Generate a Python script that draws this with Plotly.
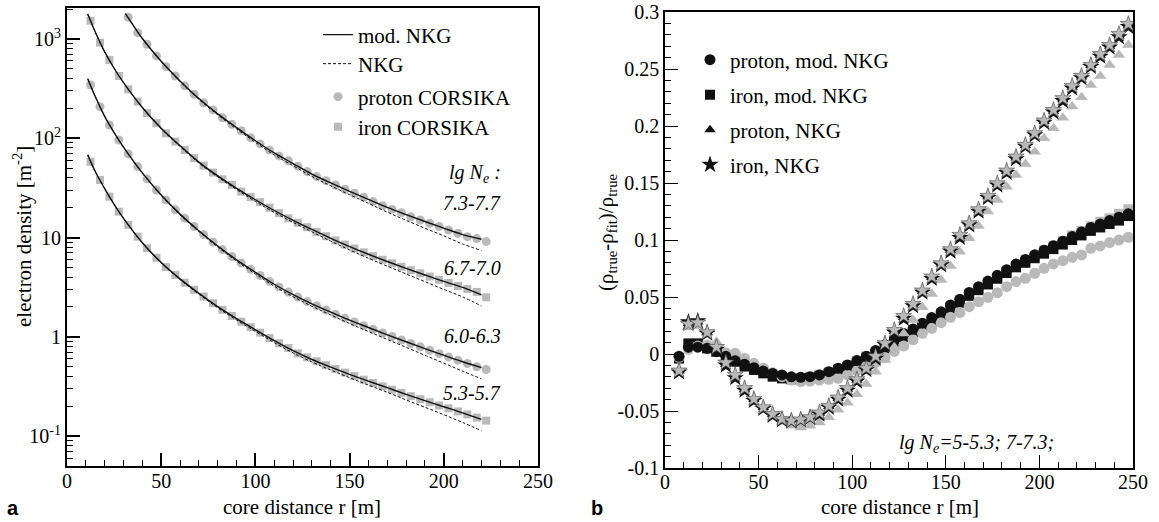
import plotly.graph_objects as go

# ---------------- data: left panel (electron lateral density) ----------------
r_pts = [12.5, 17.5, 22.5, 27.5, 32.5, 37.5, 42.5, 47.5, 52.5, 57.5, 62.5, 67.5, 72.5, 77.5, 82.5,
         87.5, 92.5, 97.5, 102.5, 107.5, 112.5, 117.5, 122.5, 127.5, 132.5, 137.5, 142.5, 147.5,
         152.5, 157.5, 162.5, 167.5, 172.5, 177.5, 182.5, 187.5, 192.5, 197.5, 202.5, 207.5,
         212.5, 217.5, 222.5]
r_ptsA = [32.5, 37.5, 42.5, 47.5, 52.5, 57.5, 62.5, 67.5, 72.5, 77.5, 82.5,
          87.5, 92.5, 97.5, 102.5, 107.5, 112.5, 117.5, 122.5, 127.5, 132.5, 137.5, 142.5, 147.5,
          152.5, 157.5, 162.5, 167.5, 172.5, 177.5, 182.5, 187.5, 192.5, 197.5, 202.5, 207.5,
          212.5, 217.5, 222.5]

# lg Ne 7.3-7.7 (proton CORSIKA)
dens_A = [1656, 1157, 885, 675, 526, 424, 337, 277, 228, 193, 161, 138, 119, 101, 87.7, 76.2, 66.4,
          59.3, 52.2, 46.1, 41.1, 37.4, 33.8, 30.6, 27.9, 25.4, 23.0, 20.9, 19.2, 17.8, 16.2, 15.0,
          13.9, 12.9, 11.9, 11.0, 10.2, 9.75, 9.1]
# lg Ne 6.7-7.0 (iron CORSIKA)
dens_B = [1528, 918, 615, 424, 311, 234, 179, 142, 112, 92.5, 76.2, 63.0, 53.0, 45.1, 38.6, 33.9,
          29.0, 25.5, 22.7, 20.0, 17.6, 15.6, 14.1, 12.7, 11.4, 10.3, 9.35, 8.49, 7.74, 7.08, 6.49,
          5.97, 5.50, 5.07, 4.69, 4.35, 4.04, 3.75, 3.49, 3.25, 3.03, 2.83, 2.5]
# lg Ne 6.0-6.3 (proton CORSIKA)
dens_C = [344, 208, 136, 96, 69.5, 51.8, 38.9, 30.1, 23.9, 19.0, 15.6, 12.9, 10.7, 8.97, 7.55, 6.43,
          5.52, 4.79, 4.14, 3.61, 3.18, 2.82, 2.51, 2.26, 2.05, 1.86, 1.69, 1.54, 1.41, 1.29, 1.19,
          1.09, 1.005, 0.927, 0.855, 0.791, 0.731, 0.676, 0.627, 0.581, 0.538, 0.499, 0.468]
# lg Ne 5.3-5.7 (iron CORSIKA)
dens_D = [58, 38, 25.8, 18.2, 13.4, 10.2, 7.8, 6.25, 5.03, 4.2, 3.5, 2.97, 2.54, 2.18, 1.87, 1.62,
          1.42, 1.25, 1.10, 0.97, 0.86, 0.77, 0.68, 0.620, 0.566, 0.518, 0.474, 0.436, 0.401, 0.370,
          0.342, 0.316, 0.293, 0.272, 0.252, 0.235, 0.219, 0.203, 0.190, 0.177, 0.165, 0.153, 0.143]

r_lineA = [31, 35, 40, 50, 60, 70, 80, 90, 100, 110, 120, 130, 140, 150, 160, 170, 180, 190, 200, 210, 220]
modA = [1800, 1385, 1010, 596, 378, 251, 176, 128, 94.4, 71.1, 55.6, 43.6, 35.5, 29.2, 24.2, 20.1,
        17.0, 14.5, 12.45, 10.7, 9.6]
nkgA = [1800, 1385, 1003, 589, 372, 246, 172, 124, 91.0, 68.0, 52.9, 41.2, 33.2, 27.0, 22.1, 18.0,
        14.9, 12.4, 10.4, 8.6, 7.4]

r_line = [11, 15, 20, 25, 30, 40, 50, 60, 70, 80, 90, 100, 110, 120, 130, 140, 150, 160, 170, 180,
          190, 200, 210, 220]
modB = [1780, 1175, 741, 507, 363, 204, 126, 84, 57.5, 41.7, 31.3, 24.0, 18.7, 14.9, 12.05, 9.82,
        8.11, 6.78, 5.73, 4.88, 4.19, 3.61, 3.14, 2.64]
nkgB = [1780, 1175, 741, 507, 363, 203, 124.6, 82.7, 56.3, 40.7, 30.4, 23.1, 17.9, 14.2, 11.4, 9.19,
        7.50, 6.18, 5.14, 4.29, 3.59, 3.00, 2.52, 2.04]
modC = [398, 263, 166, 114, 81.3, 44.7, 26.8, 17.2, 11.7, 8.22, 5.96, 4.46, 3.38, 2.66, 2.15, 1.77,
        1.47, 1.24, 1.047, 0.891, 0.760, 0.652, 0.56, 0.488]
nkgC = [398, 263, 166, 114, 81.3, 44.4, 26.5, 16.9, 11.46, 8.01, 5.78, 4.30, 3.23, 2.53, 2.03, 1.66,
        1.36, 1.13, 0.94, 0.783, 0.651, 0.542, 0.45, 0.377]
modD = [68, 46.2, 31.1, 21.6, 15.6, 8.87, 5.6, 3.83, 2.74, 2.01, 1.52, 1.175, 0.912, 0.723, 0.59,
        0.494, 0.418, 0.357, 0.307, 0.263, 0.227, 0.197, 0.171, 0.147]
nkgD = [68, 46.2, 31.1, 21.6, 15.6, 8.81, 5.54, 3.77, 2.68, 1.96, 1.475, 1.133, 0.873, 0.687, 0.557,
        0.462, 0.387, 0.326, 0.276, 0.231, 0.195, 0.164, 0.137, 0.113]

ne_labels = ["7.3-7.7", "6.7-7.0", "6.0-6.3", "5.3-5.7"]
y_ticks_left = [0.1, 1, 10, 100, 1000]
y_ticktext_left = ["10<sup>-1</sup>", "1", "10", "10<sup>2</sup>", "10<sup>3</sup>"]
y_minor_left = [0.06, 0.07, 0.08, 0.09, 0.2, 0.3, 0.4, 0.5, 0.6, 0.7, 0.8, 0.9,
                2, 3, 4, 5, 6, 7, 8, 9, 20, 30, 40, 50, 60, 70, 80, 90,
                200, 300, 400, 500, 600, 700, 800, 900, 2000]

# ---------------- data: right panel (relative deviation) ----------------
r_res = [7.5, 12.5, 17.5, 22.5, 27.5, 32.5, 37.5, 42.5, 47.5, 52.5, 57.5, 62.5, 67.5, 72.5, 77.5,
         82.5, 87.5, 92.5, 97.5, 102.5, 107.5, 112.5, 117.5, 122.5, 127.5, 132.5, 137.5, 142.5,
         147.5, 152.5, 157.5, 162.5, 167.5, 172.5, 177.5, 182.5, 187.5, 192.5, 197.5, 202.5, 207.5,
         212.5, 217.5, 222.5, 227.5, 232.5, 237.5, 242.5, 247.5]

p_mod_hi = [-0.002, 0.006, 0.006, 0.005, 0.002, -0.002, -0.006, -0.009, -0.012, -0.015, -0.017,
            -0.0184, -0.020, -0.0204, -0.0199, -0.0184, -0.0155, -0.0125, -0.0096, -0.0058, -0.002,
            0.003, 0.008, 0.013, 0.018, 0.022, 0.027, 0.032, 0.037, 0.043, 0.048, 0.054, 0.059,
            0.064, 0.069, 0.074, 0.079, 0.083, 0.087, 0.091, 0.095, 0.099, 0.103, 0.107, 0.111,
            0.114, 0.117, 0.120, 0.123]
p_mod_lo = [-0.003, 0.0041, 0.007, 0.0079, 0.005, 0.0012, 0.0006, -0.0038, -0.0082, -0.0125,
            -0.0164, -0.0199, -0.0228, -0.0242, -0.0237, -0.0228, -0.0222, -0.0213, -0.0184,
            -0.0146, -0.011, -0.0076, -0.003, 0.0023, 0.007, 0.0125, 0.0181, 0.0225, 0.0275,
            0.0322, 0.0363, 0.0415, 0.0459, 0.0497, 0.0538, 0.0591, 0.0635, 0.0664, 0.0708, 0.0752,
            0.079, 0.0819, 0.0848, 0.0869, 0.0927, 0.0948, 0.0977, 0.1, 0.1024]
fe_mod_hi = [-0.004, 0.0093, 0.0093, 0.0049, 0.002, -0.0024, -0.0068, -0.011, -0.014, -0.017,
             -0.0199, -0.0214, -0.0222, -0.022, -0.021, -0.0195, -0.017, -0.014, -0.0115, -0.008,
             -0.004, 0.000, 0.005, 0.010, 0.015, 0.019, 0.024, 0.029, 0.034, 0.040, 0.045, 0.051,
             0.056, 0.061, 0.066, 0.071, 0.076, 0.080, 0.084, 0.088, 0.092, 0.096, 0.100, 0.104,
             0.108, 0.111, 0.114, 0.117, 0.121]
fe_mod_lo = [-0.003, 0.008, 0.009, 0.006, 0.003, -0.001, -0.005, -0.009, -0.012, -0.015, -0.018,
             -0.020, -0.021, -0.021, -0.020, -0.018, -0.016, -0.013, -0.010, -0.006, -0.002, 0.002,
             0.007, 0.012, 0.016, 0.021, 0.026, 0.031, 0.036, 0.041, 0.047, 0.052, 0.057, 0.062,
             0.067, 0.072, 0.077, 0.082, 0.086, 0.091, 0.095, 0.099, 0.104, 0.108, 0.112, 0.116,
             0.119, 0.123, 0.127]
p_nkg_hi = [-0.015, 0.027, 0.028, 0.019, 0.005, -0.009, -0.020, -0.031, -0.040, -0.047, -0.053,
            -0.057, -0.058, -0.057, -0.055, -0.052, -0.046, -0.039, -0.031, -0.023, -0.013, -0.003,
            0.009, 0.020, 0.032, 0.043, 0.055, 0.067, 0.079, 0.091, 0.103, 0.114, 0.126, 0.138,
            0.149, 0.160, 0.172, 0.183, 0.193, 0.204, 0.213, 0.223, 0.234, 0.243, 0.253, 0.262,
            0.270, 0.279, 0.288]
p_nkg_lo = [-0.014, 0.0234, 0.0246, 0.018, 0.0108, -0.009, -0.020, -0.032, -0.042, -0.049, -0.055,
            -0.0595, -0.063, -0.0645, -0.063, -0.060, -0.0555, -0.049, -0.0427, -0.0353, -0.0263,
            -0.0155, -0.0052, 0.006, 0.018, 0.0298, 0.041, 0.0527, 0.065, 0.0772, 0.0898, 0.1015,
            0.1123, 0.1249, 0.135, 0.1468, 0.157, 0.1667, 0.1775, 0.1892, 0.198, 0.2073, 0.217,
            0.2252, 0.236, 0.2439, 0.2535, 0.2623, 0.271]
fe_nkg_hi = [-0.016, 0.028, 0.029, 0.018, 0.004, -0.010, -0.021, -0.032, -0.041, -0.048, -0.054,
             -0.058, -0.059, -0.058, -0.056, -0.053, -0.047, -0.040, -0.032, -0.024, -0.014, -0.004,
             0.008, 0.019, 0.031, 0.042, 0.054, 0.066, 0.078, 0.090, 0.102, 0.113, 0.125, 0.137,
             0.148, 0.159, 0.171, 0.182, 0.192, 0.203, 0.212, 0.222, 0.233, 0.242, 0.252, 0.261,
             0.269, 0.278, 0.287]
fe_nkg_lo = [-0.0146, 0.0263, 0.0275, 0.019, 0.006, -0.0076, -0.0184, -0.030, -0.0395, -0.0468,
             -0.0526, -0.057, -0.0585, -0.0575, -0.0555, -0.0514, -0.0456, -0.0383, -0.030, -0.0222,
             -0.0125, -0.002, 0.0094, 0.021, 0.0333, 0.0439, 0.0556, 0.0679, 0.0795, 0.0918, 0.1044,
             0.1146, 0.1269, 0.1386, 0.1497, 0.1608, 0.1731, 0.1834, 0.1936, 0.2047, 0.214, 0.2243,
             0.2351, 0.2439, 0.2535, 0.263, 0.271, 0.2807, 0.2895]

y_ticks_right = [-0.1, -0.05, 0, 0.05, 0.1, 0.15, 0.2, 0.25, 0.3]
y_ticktext_right = ["-0.1", "-0.05", "0", "0.05", "0.1", "0.15", "0.2", "0.25", "0.3"]
x_ticks = [0, 50, 100, 150, 200, 250]

# ---------------- styling ----------------
W, H = 1159, 522
FONT = "Liberation Serif"
GRAY = "#b9b9b9"
BLACK = "#111111"


def px(x):
    return x / W


def py(y):
    return 1 - y / H


fig = go.Figure()

# left: CORSIKA points
fig.add_trace(go.Scatter(x=r_ptsA, y=dens_A, mode="markers", name="proton CORSIKA",
                         marker=dict(symbol="circle", size=9, color=GRAY),
                         legend="legend3", xaxis="x", yaxis="y"))
fig.add_trace(go.Scatter(x=r_pts, y=dens_B, mode="markers", name="iron CORSIKA",
                         marker=dict(symbol="square", size=8, color=GRAY),
                         legend="legend4", xaxis="x", yaxis="y"))
fig.add_trace(go.Scatter(x=r_pts, y=dens_C, mode="markers", showlegend=False,
                         marker=dict(symbol="circle", size=9, color=GRAY), xaxis="x", yaxis="y"))
fig.add_trace(go.Scatter(x=r_pts, y=dens_D, mode="markers", showlegend=False,
                         marker=dict(symbol="square", size=8, color=GRAY), xaxis="x", yaxis="y"))

# left: fits
for i, (rx, mod, nkg) in enumerate([(r_lineA, modA, nkgA), (r_line, modB, nkgB),
                                     (r_line, modC, nkgC), (r_line, modD, nkgD)]):
    fig.add_trace(go.Scatter(x=rx, y=nkg, mode="lines", name="NKG", legend="legend2",
                             showlegend=(i == 0), line=dict(color=BLACK, width=1, dash="3px,2px",
                                                            shape="spline"),
                             xaxis="x", yaxis="y"))
    fig.add_trace(go.Scatter(x=rx, y=mod, mode="lines", name="mod. NKG", legend="legend",
                             showlegend=(i == 0), line=dict(color=BLACK, width=1.4, shape="spline"),
                             xaxis="x", yaxis="y"))

# right: deviations
fig.add_trace(go.Scatter(x=r_res, y=fe_mod_lo, mode="markers", showlegend=False,
                         marker=dict(symbol="square", size=10, color=GRAY), xaxis="x2", yaxis="y2"))
fig.add_trace(go.Scatter(x=r_res, y=fe_mod_hi, mode="markers", name="iron, mod. NKG",
                         legend="legend6", marker=dict(symbol="square", size=10, color=BLACK),
                         xaxis="x2", yaxis="y2"))
fig.add_trace(go.Scatter(x=r_res, y=p_mod_lo, mode="markers", showlegend=False,
                         marker=dict(symbol="circle", size=11, color=GRAY), xaxis="x2", yaxis="y2"))
fig.add_trace(go.Scatter(x=r_res, y=p_mod_hi, mode="markers", name="proton, mod. NKG",
                         legend="legend5", marker=dict(symbol="circle", size=11, color=BLACK),
                         xaxis="x2", yaxis="y2"))
fig.add_trace(go.Scatter(x=r_res, y=p_nkg_lo, mode="markers", showlegend=False,
                         marker=dict(symbol="triangle-up", size=11, color=GRAY),
                         xaxis="x2", yaxis="y2"))
fig.add_trace(go.Scatter(x=r_res, y=p_nkg_hi, mode="markers", name="proton, NKG",
                         legend="legend7", marker=dict(symbol="triangle-up", size=10, color=BLACK),
                         xaxis="x2", yaxis="y2"))
fig.add_trace(go.Scatter(x=r_res, y=fe_nkg_hi, mode="markers", name="iron, NKG",
                         legend="legend8", marker=dict(symbol="star", size=13, color=BLACK),
                         xaxis="x2", yaxis="y2"))
fig.add_trace(go.Scatter(x=r_res, y=fe_nkg_lo, mode="markers", showlegend=False,
                         marker=dict(symbol="star", size=12, color=GRAY,
                                     line=dict(color="#444444", width=0.6)),
                         xaxis="x2", yaxis="y2"))

tickfont = dict(family=FONT, size=20, color="black")
axis_common = dict(showgrid=False, zeroline=False, showline=True, linecolor="black", mirror=True,
                   ticks="inside", tickcolor="black", tickfont=tickfont, automargin=False)

legend_base = dict(xanchor="left", yanchor="middle", bgcolor="rgba(0,0,0,0)", borderwidth=0,
                   font=dict(family=FONT, size=21, color="black"), itemclick=False)

leg_left_x = px(318)
leg_right_x = px(690)

fig.update_layout(
    width=W, height=H,
    margin=dict(l=0, r=0, t=0, b=0, pad=0, autoexpand=False),
    paper_bgcolor="white", plot_bgcolor="white",
    xaxis=dict(domain=[px(67), px(538)], range=[0, 250], anchor="y", tickvals=x_ticks,
               ticklen=13, tickwidth=1.5, linewidth=2, ticklabelstandoff=-4,
               minor=dict(dtick=10, ticks="inside", ticklen=6, tickwidth=1.2, tickcolor="black"),
               **axis_common),
    yaxis=dict(domain=[py(466), py(8)], type="log", range=[-1.302, 3.312], anchor="x",
               tickvals=y_ticks_left, ticktext=y_ticktext_left, ticklen=13, tickwidth=1.5,
               linewidth=2,
               minor=dict(tickmode="array", tickvals=y_minor_left, ticks="inside", ticklen=6,
                          tickwidth=1.2, tickcolor="black"),
               **axis_common),
    xaxis2=dict(domain=[px(665), px(1133)], range=[0, 250], anchor="y2", tickvals=x_ticks,
                ticklen=13, tickwidth=1.3, linewidth=1.5, ticklabelstandoff=-5,
                minor=dict(dtick=10, ticks="inside", ticklen=6, tickwidth=1, tickcolor="black"),
                **axis_common),
    yaxis2=dict(domain=[py(468), py(12)], range=[-0.1, 0.3], anchor="x2",
                tickvals=y_ticks_right, ticktext=y_ticktext_right, ticklen=13, tickwidth=1.3,
                linewidth=1.5,
                minor=dict(dtick=0.01, tick0=0, ticks="inside", ticklen=6, tickwidth=1,
                           tickcolor="black"),
                **axis_common),
    legend=dict(x=leg_left_x, y=py(35), **legend_base),
    legend2=dict(x=leg_left_x, y=py(64), **legend_base),
    legend3=dict(x=leg_left_x, y=py(97), **legend_base),
    legend4=dict(x=leg_left_x, y=py(127), **legend_base),
    legend5=dict(x=leg_right_x, y=py(60), **legend_base),
    legend6=dict(x=leg_right_x, y=py(95), **legend_base),
    legend7=dict(x=leg_right_x, y=py(130), **legend_base),
    legend8=dict(x=leg_right_x, y=py(165), **legend_base),
)

ann_font = dict(family=FONT, size=21, color="black")
annotations = [
    dict(text="<i>lg N<sub>e</sub> :</i>", x=px(503), y=py(173), xanchor="right", yanchor="middle",
         font=dict(family=FONT, size=20, color="black")),
]
for lab, yy in zip(ne_labels, [203, 268, 336, 393]):
    annotations.append(dict(text="<i>" + lab + "</i>", x=px(503), y=py(yy), xanchor="right",
                            yanchor="middle", font=dict(family=FONT, size=20, color="black")))
annotations += [
    dict(text="<i>lg N<sub>e</sub>=5-5.3; 7-7.3;</i>", x=px(1056), y=py(443), xanchor="right",
         yanchor="middle", font=dict(family=FONT, size=20, color="black")),
    dict(text="core distance r [m]", x=px(302), y=py(507), xanchor="center", yanchor="middle",
         font=ann_font),
    dict(text="core distance r [m]", x=px(900), y=py(507), xanchor="center", yanchor="middle",
         font=ann_font),
    dict(text="electron density [m<sup>-2</sup>]", x=px(22), y=py(237), textangle=-90,
         xanchor="center", yanchor="middle", font=ann_font),
    dict(text="(ρ<sub>true</sub>-ρ<sub>fit</sub>)/ρ<sub>true</sub>", x=px(607), y=py(232),
         textangle=-90, xanchor="center", yanchor="middle", font=ann_font),
    dict(text="<b>a</b>", x=px(13), y=py(508), xanchor="center", yanchor="middle",
         font=dict(family="Liberation Sans", size=20, color="black")),
    dict(text="<b>b</b>", x=px(597), y=py(508), xanchor="center", yanchor="middle",
         font=dict(family="Liberation Sans", size=20, color="black")),
]
for a in annotations:
    a.update(xref="paper", yref="paper", showarrow=False)
fig.update_layout(annotations=annotations)

fig.write_html("out.html")
